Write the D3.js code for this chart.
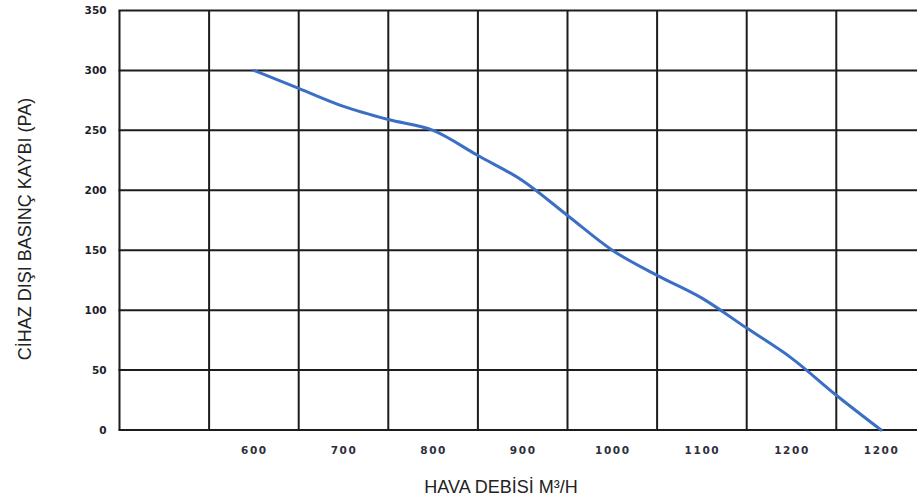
<!DOCTYPE html>
<html>
<head>
<meta charset="utf-8">
<script src="https://cdn.jsdelivr.net/npm/d3@7"></script>
<style>
  html, body { margin: 0; padding: 0; background: #fff; }
  svg { display: block; }
</style>
</head>
<body>
<svg id="chart" width="917" height="503"></svg>
<script>
// Air flow (m³/h) vs. external static pressure loss (Pa)
const flowValues = [600, 650, 700, 750, 800, 850, 900, 950, 1000, 1050, 1100, 1150, 1200, 1250, 1300];
const pressureValues = [300, 285, 270, 259, 250, 229, 208, 179, 150, 129, 110, 85, 60, 29, 0];

// Tick positions along the flow axis and the labels printed under them
const xTickValues = [600, 700, 800, 900, 1000, 1100, 1200, 1300];
const xTickLabels = ["600", "700", "800", "900", "1000", "1100", "1200", "1200"];
const xGridValues = [450, 550, 650, 750, 850, 950, 1050, 1150, 1250, 1350];
const yTickValues = [0, 50, 100, 150, 200, 250, 300, 350];

const xTitle = "HAVA DEBİSİ M³/H";
const yTitle = "CİHAZ DIŞI BASINÇ KAYBI (PA)";

const svg = d3.select("#chart");

const x = d3.scaleLinear().domain([450, 1350]).range([119.5, 925.9]);
const y = d3.scaleLinear().domain([0, 350]).range([430, 10.5]);

// Grid
const grid = svg.append("g").attr("stroke", "#1c1c1c").attr("stroke-width", 2);
grid.selectAll("line.v").data(xGridValues).join("line")
  .attr("class", "v")
  .attr("x1", d => x(d)).attr("x2", d => x(d))
  .attr("y1", y(350)).attr("y2", y(0));
grid.selectAll("line.h").data(yTickValues).join("line")
  .attr("class", "h")
  .attr("x1", x(450) - 1).attr("x2", x(1350))
  .attr("y1", d => y(d)).attr("y2", d => y(d));

// Y axis labels
const yAxis = svg.append("g")
  .attr("transform", `translate(${x(450) - 13},0)`)
  .call(d3.axisLeft(y).tickValues(yTickValues).tickSize(0).tickPadding(0).tickFormat(d3.format("d")));
yAxis.select(".domain").remove();
yAxis.selectAll("text")
  .attr("font-family", "'DejaVu Sans', Verdana, sans-serif")
  .attr("font-weight", "bold")
  .attr("font-size", 10.5)
  .attr("fill", "#1e1e28");

// X axis labels
const xAxis = svg.append("g")
  .attr("transform", `translate(0,${y(0) + 17})`)
  .call(d3.axisBottom(x).tickValues(xTickValues).tickSize(0).tickPadding(0)
    .tickFormat((d, i) => xTickLabels[i]));
xAxis.select(".domain").remove();
xAxis.selectAll("text")
  .attr("font-family", "'DejaVu Sans', Verdana, sans-serif")
  .attr("font-weight", "bold")
  .attr("font-size", 10.5)
  .attr("letter-spacing", "1.6px")
  .attr("fill", "#2e2e3c");

// Curve
const line = d3.line()
  .x((d, i) => x(flowValues[i]))
  .y(d => y(d))
  .curve(d3.curveMonotoneX);
svg.append("path")
  .datum(pressureValues)
  .attr("fill", "none")
  .attr("stroke", "#3b6fc5")
  .attr("stroke-width", 3)
  .attr("stroke-linecap", "round")
  .attr("d", line);

// Axis titles
svg.append("text")
  .attr("x", 501).attr("y", 493)
  .attr("text-anchor", "middle")
  .attr("font-family", "'Liberation Sans', Arial, sans-serif")
  .attr("font-size", 18)
  .attr("fill", "#222")
  .text(xTitle);
svg.append("text")
  .attr("transform", "translate(31,229) rotate(-90)")
  .attr("text-anchor", "middle")
  .attr("font-family", "'Liberation Sans', Arial, sans-serif")
  .attr("font-size", 18)
  .attr("fill", "#222")
  .text(yTitle);
</script>
</body>
</html>
